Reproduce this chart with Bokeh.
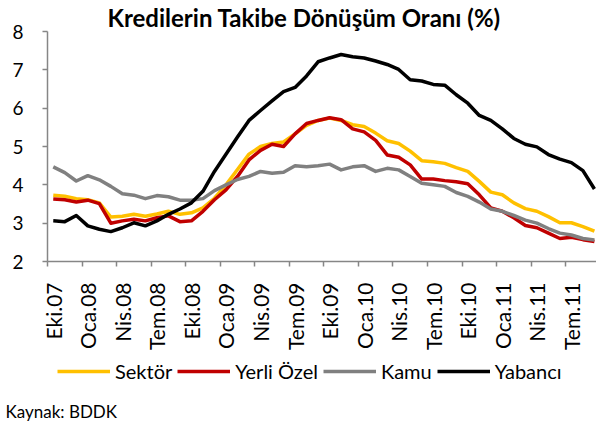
import math
from bokeh.plotting import figure
from bokeh.layouts import column
from bokeh.models import (FixedTicker, Legend, LegendItem, Label, Range1d, ColumnDataSource)
from bokeh.embed import file_html
from bokeh.resources import INLINE

# ---- data (monthly, Eki.07 .. Eyl.11) ----
months = list(range(48))
tick_positions = [0, 3, 6, 9, 12, 15, 18, 21, 24, 27, 30, 33, 36, 39, 42, 45]
tick_labels = ["Eki.07", "Oca.08", "Nis.08", "Tem.08", "Eki.08", "Oca.09", "Nis.09", "Tem.09",
               "Eki.09", "Oca.10", "Nis.10", "Tem.10", "Eki.10", "Oca.11", "Nis.11", "Tem.11"]

sektor = [3.73, 3.70, 3.64, 3.61, 3.53, 3.16, 3.18, 3.23, 3.18, 3.24, 3.31, 3.23,
          3.27, 3.40, 3.65, 4.00, 4.40, 4.80, 5.00, 5.08, 5.12, 5.33, 5.55, 5.68,
          5.74, 5.68, 5.57, 5.52, 5.35, 5.15, 5.08, 4.88, 4.63, 4.60, 4.56, 4.45,
          4.35, 4.09, 3.81, 3.74, 3.53, 3.38, 3.31, 3.17, 3.01, 3.01, 2.91, 2.79]
yerli_ozel = [3.63, 3.61, 3.55, 3.60, 3.51, 3.00, 3.06, 3.10, 3.06, 3.14, 3.19, 3.04,
              3.06, 3.31, 3.61, 3.87, 4.22, 4.65, 4.90, 5.06, 5.00, 5.33, 5.60, 5.68,
              5.75, 5.70, 5.46, 5.38, 5.16, 4.78, 4.72, 4.52, 4.15, 4.15, 4.11, 4.08,
              4.03, 3.74, 3.40, 3.31, 3.14, 2.94, 2.88, 2.74, 2.60, 2.63, 2.57, 2.52]
kamu = [4.47, 4.32, 4.10, 4.24, 4.13, 3.96, 3.77, 3.73, 3.64, 3.72, 3.69, 3.60,
        3.60, 3.64, 3.85, 4.00, 4.14, 4.22, 4.35, 4.30, 4.33, 4.50, 4.47, 4.50,
        4.54, 4.39, 4.47, 4.50, 4.35, 4.43, 4.39, 4.22, 4.04, 4.00, 3.96, 3.80,
        3.70, 3.55, 3.37, 3.31, 3.20, 3.08, 3.00, 2.86, 2.74, 2.69, 2.60, 2.56]
yabanci = [3.06, 3.04, 3.20, 2.93, 2.84, 2.78, 2.88, 3.01, 2.93, 3.06, 3.23, 3.37,
           3.53, 3.83, 4.35, 4.80, 5.25, 5.68, 5.94, 6.19, 6.43, 6.54, 6.84, 7.21,
           7.31, 7.40, 7.34, 7.31, 7.23, 7.14, 7.01, 6.74, 6.71, 6.62, 6.60, 6.35,
           6.13, 5.81, 5.68, 5.46, 5.21, 5.06, 4.99, 4.79, 4.67, 4.58, 4.37, 3.89]

series_names = ["Sektör", "Yerli Özel", "Kamu", "Yabancı"]
series_values = [sektor, yerli_ozel, kamu, yabanci]
series_colors = ["#FFC000", "#C00000", "#808080", "#000000"]

FONT = "Lato"
AXIS_COLOR = "#868686"

# ---------------- main chart ----------------
p = figure(width=596, height=353, output_backend="svg", toolbar_location=None,
           x_range=Range1d(-0.5, 47.18), y_range=Range1d(2, 8),
           min_border_left=47, min_border_right=0, min_border_top=30, min_border_bottom=90)
p.frame_align = False
p.outline_line_color = None
p.xgrid.grid_line_color = None
p.ygrid.grid_line_color = None
p.background_fill_color = "white"
p.border_fill_color = "white"

p.title.text = "Kredilerin Takibe Dönüşüm Oranı (%)"
p.title.text_font = FONT
p.title.text_font_size = "24px"
p.title.text_font_style = "bold"
p.title.text_color = "black"
p.title.align = "left"
p.title.offset = 60
p.title.standoff = 0

p.xaxis.ticker = FixedTicker(ticks=tick_positions,
                             minor_ticks=[t - 0.5 for t in tick_positions])
p.xaxis.major_label_overrides = {t: l for t, l in zip(tick_positions, tick_labels)}
p.xaxis.major_label_orientation = math.pi / 2
p.xaxis.major_tick_line_color = None
p.xaxis.major_tick_out = 5
p.xaxis.major_tick_in = 0
p.xaxis.minor_tick_line_color = AXIS_COLOR
p.xaxis.minor_tick_line_width = 1.5
p.xaxis.minor_tick_out = 5
p.xaxis.minor_tick_in = 0
p.xaxis.axis_line_color = AXIS_COLOR
p.xaxis.axis_line_width = 1.5
p.xaxis.major_label_standoff = 16
p.xaxis.major_label_text_font = FONT
p.xaxis.major_label_text_font_size = "21px"
p.xaxis.major_label_text_color = "black"

p.yaxis.ticker = FixedTicker(ticks=[2, 3, 4, 5, 6, 7, 8])
p.yaxis.axis_line_color = AXIS_COLOR
p.yaxis.axis_line_width = 1.5
p.yaxis.major_tick_line_color = AXIS_COLOR
p.yaxis.major_tick_line_width = 1.5
p.yaxis.major_tick_out = 5
p.yaxis.major_tick_in = 0
p.yaxis.minor_tick_line_color = None
p.yaxis.major_label_standoff = 19
p.yaxis.major_label_text_font = FONT
p.yaxis.major_label_text_font_size = "19px"
p.yaxis.major_label_text_color = "black"

for name, vals, col in zip(series_names, series_values, series_colors):
    src = ColumnDataSource(dict(x=months, y=vals))
    p.line("x", "y", source=src, line_color=col, line_width=3.5, line_join="round")

# ---------------- legend + source strip ----------------
# the series are drawn again here only as legend proxies: this strip's y range
# (0..1) lies below all values, so these copies stay out of view
q = figure(width=596, height=75, output_backend="svg", toolbar_location=None,
           x_range=Range1d(0, 1), y_range=Range1d(0, 1),
           x_axis_type=None, y_axis_type=None,
           min_border_left=0, min_border_right=0, min_border_top=0, min_border_bottom=0)
q.frame_align = False
q.outline_line_color = None
q.xgrid.grid_line_color = None
q.ygrid.grid_line_color = None
q.background_fill_color = "white"
q.border_fill_color = "white"

items = []
for name, vals, col in zip(series_names, series_values, series_colors):
    r = q.line(x=months, y=vals, line_color=col, line_width=3.5)
    items.append(LegendItem(label=name, renderers=[r]))

legend = Legend(items=items, orientation="horizontal", location=(57, 45),
                border_line_color=None, background_fill_alpha=0,
                padding=0, margin=0, spacing=5, label_standoff=5,
                glyph_width=53, glyph_height=20, label_height=20,
                label_text_font=FONT, label_text_font_size="20px",
                label_text_color="black")
q.add_layout(legend, "center")

src_lbl = Label(x=5, y=17, x_units="screen", y_units="screen",
                text="Kaynak: BDDK", text_font=FONT, text_font_size="17px",
                text_align="left", text_baseline="middle", text_color="black")
q.add_layout(src_lbl)

layout = column(p, q, spacing=0)
open("out.html", "w").write(file_html(layout, INLINE))
